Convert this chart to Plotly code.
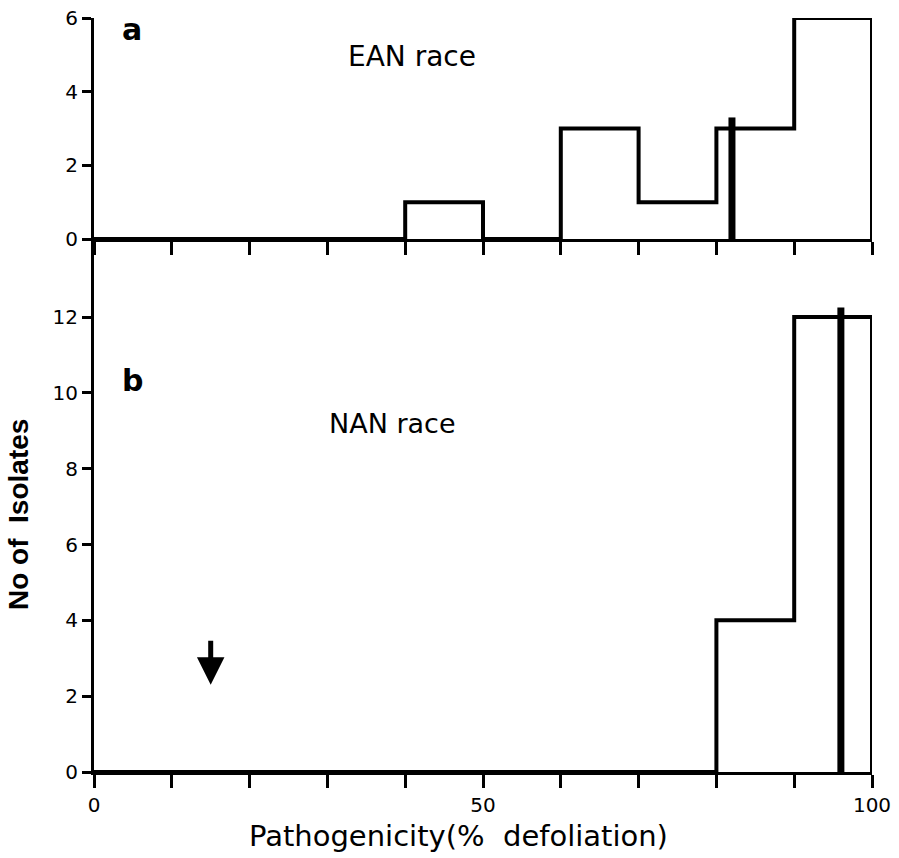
import plotly.graph_objects as go

# ---- data ----
bin_edges = [0, 10, 20, 30, 40, 50, 60, 70, 80, 90, 100]
counts_a = [0, 0, 0, 0, 1, 0, 3, 1, 3, 6]      # EAN race
counts_b = [0, 0, 0, 0, 0, 0, 0, 0, 4, 12]     # NAN race
mean_a = 82.0
mean_a_top = 3.3
mean_b = 96.0
mean_b_top = 12.25
arrow_x = 15.0
arrow_from = 3.5
arrow_to = 2.3
x_tickvals = [0, 10, 20, 30, 40, 50, 60, 70, 80, 90, 100]
x_ticktext = ["0", "", "", "", "", "50", "", "", "", "", "100"]
ya_ticks = [0, 2, 4, 6]
yb_ticks = [0, 2, 4, 6, 8, 10, 12]


def outline(edges, counts):
    xs, ys = [edges[0]], [0]
    for i, c in enumerate(counts):
        xs += [edges[i], edges[i + 1]]
        ys += [c, c]
    xs.append(edges[-1])
    ys.append(0)
    return xs, ys


W, H = 899, 858
ml, mr, mt, mb = 94, 27, 18, 86
PW, PH = W - ml - mr, H - mt - mb
split = (772 - 239) / PH


def px(xp):
    return (xp - ml) / PW


def py(yp):
    return (H - mb - yp) / PH


fig = go.Figure()
xa, ya = outline(bin_edges, counts_a)
xb, yb = outline(bin_edges, counts_b)
fig.add_trace(go.Scatter(x=xa, y=ya, xaxis="x2", yaxis="y2", mode="lines",
                         line=dict(color="black", width=4),
                         hoverinfo="skip", showlegend=False))
fig.add_trace(go.Scatter(x=xb, y=yb, xaxis="x", yaxis="y", mode="lines",
                         line=dict(color="black", width=4),
                         hoverinfo="skip", showlegend=False))
fig.add_trace(go.Scatter(x=[mean_a, mean_a], y=[0, mean_a_top], xaxis="x2", yaxis="y2",
                         mode="lines", line=dict(color="black", width=7),
                         hoverinfo="skip", showlegend=False))
fig.add_trace(go.Scatter(x=[mean_b, mean_b], y=[0, mean_b_top], xaxis="x", yaxis="y",
                         mode="lines", line=dict(color="black", width=7),
                         hoverinfo="skip", showlegend=False))

font = "DejaVu Sans"
axis_common = dict(showline=True, linecolor="black", linewidth=3, showgrid=False,
                   zeroline=False, ticks="outside", tickcolor="black", automargin=False,
                   tickfont=dict(family=font, size=20, color="black"))

fig.update_layout(
    width=W, height=H,
    margin=dict(l=ml, r=mr, t=mt, b=mb, autoexpand=False),
    plot_bgcolor="white", paper_bgcolor="white",
    xaxis=dict(range=[0, 100], anchor="y", tickvals=x_tickvals, ticktext=x_ticktext,
               ticklen=13, tickwidth=3, **axis_common),
    yaxis=dict(range=[0, (772 - 239) / ((772 - 317) / 12)], domain=[0, split], anchor="x",
               tickvals=yb_ticks, ticklen=9, tickwidth=3, **axis_common),
    xaxis2=dict(range=[0, 100], anchor="y2", matches="x", tickvals=x_tickvals,
                showticklabels=False, ticklen=13, tickwidth=3, **axis_common),
    yaxis2=dict(range=[0, 6], domain=[split, 1], anchor="x2",
                tickvals=ya_ticks, ticklen=9, tickwidth=3, **axis_common),
)

fig.add_annotation(x=arrow_x, y=arrow_to, ax=arrow_x, ay=arrow_from, xref="x", yref="y",
                   axref="x", ayref="y", showarrow=True, arrowhead=2, arrowsize=1.1,
                   arrowwidth=5, arrowcolor="black", text="")

fig.add_annotation(x=px(120), y=py(10), xref="paper", yref="paper", text="<b>a</b>",
                   showarrow=False, xanchor="left", yanchor="top",
                   font=dict(family=font, size=30, color="black"))
fig.add_annotation(x=40.9, y=4.96, xref="x2", yref="y2", text="EAN race", showarrow=False,
                   font=dict(family=font, size=28, color="black"))
fig.add_annotation(x=px(120), y=py(380), xref="paper", yref="paper", text="<b>b</b>",
                   showarrow=False, xanchor="left", yanchor="middle",
                   font=dict(family=font, size=30, color="black"))
fig.add_annotation(x=38.4, y=9.18, xref="x", yref="y", text="NAN race", showarrow=False,
                   font=dict(family=font, size=27, color="black"))

fig.add_annotation(x=px(18), y=py(515), xref="paper", yref="paper",
                   text="<b>No of  Isolates</b>", textangle=-90, showarrow=False,
                   xanchor="center", yanchor="middle",
                   font=dict(family="Liberation Sans", size=28, color="black"))
fig.add_annotation(x=px(458), y=py(836), xref="paper", yref="paper",
                   text="Pathogenicity(%  defoliation)", showarrow=False,
                   xanchor="center", yanchor="middle",
                   font=dict(family=font, size=29, color="black"))

fig.write_html("out.html", config={"displayModeBar": False},
               post_script="document.body.style.margin='0px';")
